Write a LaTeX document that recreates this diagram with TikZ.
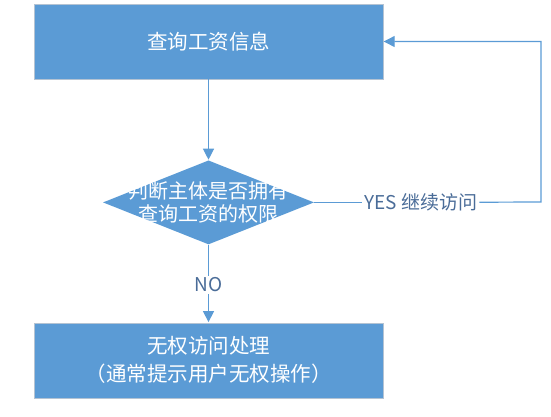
\documentclass[tikz,border=0pt]{standalone}
\usepackage{fontspec}
\newfontfamily\cjk{Noto Sans CJK SC}
\usetikzlibrary{positioning,shapes.geometric,arrows.meta}
\definecolor{flowblue}{HTML}{5B9BD5}
\definecolor{flowedge}{HTML}{B4C3D3}
\definecolor{labelblue}{HTML}{4A6C98}

\begin{document}
\begin{tikzpicture}[x=1pt, y=-1pt,
        procbox/.style={rectangle, draw=flowedge, fill=flowblue, text=white, minimum width=349pt, minimum height=75pt, inner sep=0pt, font=\cjk\fontsize{20.5}{28}\selectfont, align=center},
        decision/.style={diamond, fill=flowblue, minimum width=211pt, minimum height=84pt, inner sep=0pt},
        decisiontext/.style={text=white, font=\cjk\fontsize{20}{23.5}\selectfont, align=center, inner sep=0pt},
        flowlabel/.style={text=labelblue, font=\cjk\fontsize{19}{21}\selectfont, inner sep=2pt},
        flowline/.style={draw=flowblue, line width=1.2pt},
        flowarrow/.style={flowline, -{Triangle[width=11pt,length=11pt]}, shorten >=0.5pt},
    ]
    \useasboundingbox (0,0) rectangle (551,416);

    \node[procbox] (query) at (208.5,41.5) {查询工资信息};
    \node[decision, below=81pt of query, label={[decisiontext]center:判断主体是否拥有\\查询工资的权限}] (check) {};
    \node[procbox, below=78pt of check] (deny) {无权访问处理\\（通常提示用户无权操作）};

    \node[flowlabel, right=48pt of check] (yes) {YES 继续访问};
    \node[flowlabel, below=31pt of check] (no) {NO};
    \coordinate (turn) at (541,202);

    \draw[flowarrow] (query) -- (check);
    \draw[flowline] (check) -- (no);
    \draw[flowarrow] (no) -- (deny);
    \draw[flowline] (check) -- (yes);
    \draw[flowarrow] (yes) -- (turn) |- (query);
\end{tikzpicture}
\end{document}
